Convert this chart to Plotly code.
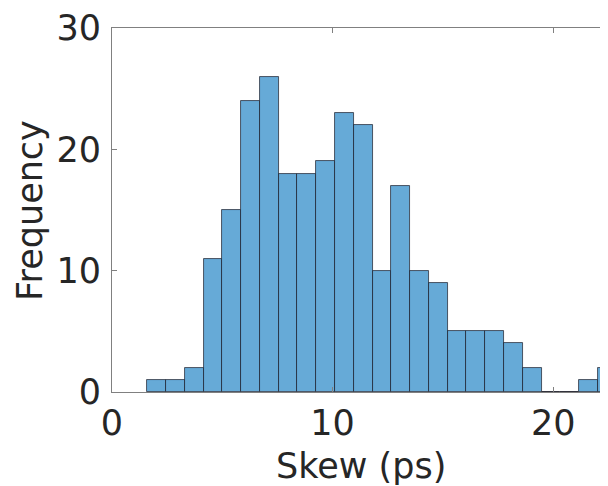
import plotly.graph_objects as go

# histogram data
bin_start = 1.60
bin_width = 0.851
counts = [1, 1, 2, 11, 15, 24, 26, 18, 18, 19, 23, 22, 10, 17, 10, 9, 5, 5, 5, 4, 2, 0, 0, 1, 2, 3]

x_ticks = [0, 10, 20]
y_ticks = [0, 10, 20, 30]

centers = [bin_start + bin_width * (i + 0.5) for i in range(len(counts))]

font = dict(family='DejaVu Sans', size=35, color='#262626')

fig = go.Figure()
fig.add_trace(go.Bar(
    x=centers, y=counts, width=bin_width,
    marker=dict(color='#66aad7', line=dict(color='rgba(20,20,30,0.75)', width=0.9)),
))

# page body has an 8px margin, so the figure starts at (8, 8)
fig.update_layout(
    width=602, height=478,
    margin=dict(l=104, r=0, t=17, b=94),
    plot_bgcolor='white', paper_bgcolor='white',
    showlegend=False, bargap=0,
    font=font,
    xaxis=dict(range=[0, 22.53], tickvals=x_ticks, ticks='inside', ticklen=5,
               tickcolor='#808080', showline=True, linecolor='#808080', linewidth=1,
               mirror='ticks', showgrid=False, zeroline=False, tickfont=font,
               ticklabeloverflow='allow'),
    yaxis=dict(range=[0, 30], tickvals=y_ticks, ticks='inside', ticklen=5,
               tickcolor='#808080', showline=True, linecolor='#808080', linewidth=1,
               mirror='ticks', showgrid=False, zeroline=False, tickfont=font,
               ticklabelstandoff=3, ticklabeloverflow='allow'),
    annotations=[
        dict(text='Skew (ps)', xref='paper', yref='paper', x=0.5, y=-0.204,
             xanchor='center', yanchor='middle', showarrow=False, font=font),
        dict(text='Frequency', xref='paper', yref='paper', x=-0.165, y=0.5,
             xanchor='center', yanchor='middle', textangle=-90, showarrow=False, font=font),
    ],
)

fig.write_html('out.html')
